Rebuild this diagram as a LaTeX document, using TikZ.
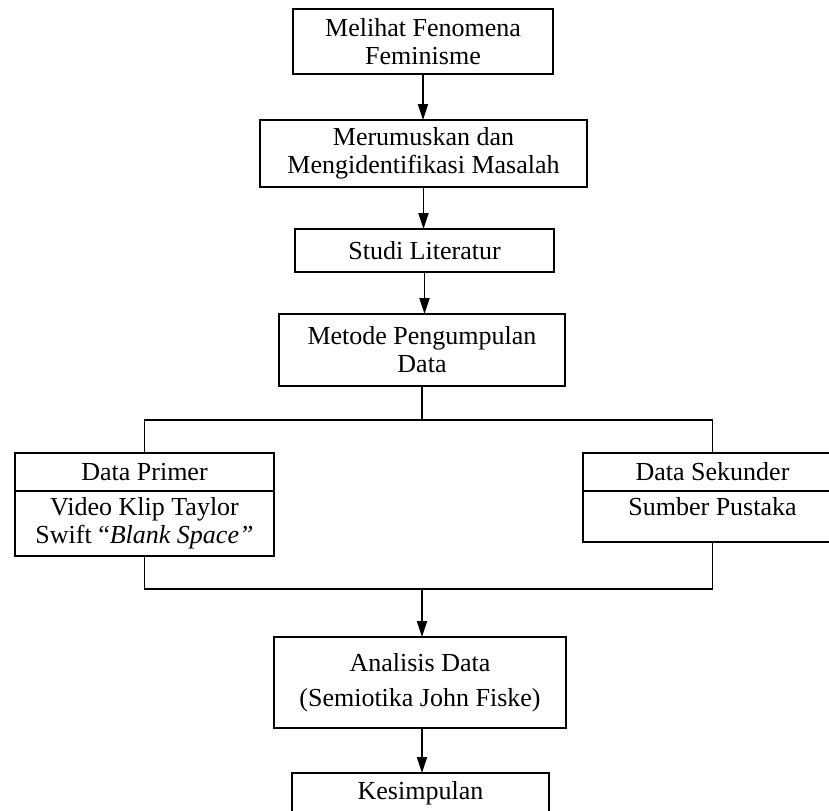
\documentclass[tikz,border=0pt]{standalone}
\usepackage{fontspec}
\setmainfont{Liberation Serif}
\usetikzlibrary{arrows.meta, positioning}

\tikzset{
  box/.style={draw, line width=0.9pt, align=center, inner sep=2pt, outer sep=0pt,
    font=\fontsize{13}{14}\selectfont},
}

\begin{document}
\begin{tikzpicture}[x=0.5pt, y=-0.5pt, >={Triangle[width=5pt,length=8pt]}, line width=0.9pt]
  \useasboundingbox (0,0) rectangle (829,810);
  \clip (0,0) rectangle (829,810);

  % alur utama
  \node[box, minimum width=130pt, minimum height=32.5pt] (fenomena) at (423,41.5) {Melihat Fenomena\\Feminisme};
  \node[box, minimum width=163.5pt, minimum height=33.5pt] (rumusan) at (423.5,153.5) {Merumuskan dan\\Mengidentifikasi Masalah};
  \node[box, minimum width=129.5pt, minimum height=21.5pt] (studi) at (424.5,250.5) {Studi Literatur};
  \node[box, minimum width=143pt, minimum height=36pt] (metode) at (422,350) {Metode Pengumpulan\\Data};

  % sumber data
  \node[box, minimum width=129.5pt, minimum height=19pt] (primer) at (144.5,472) {Data Primer};
  \node[box, minimum width=129.5pt, minimum height=32.5pt, below=0pt of primer] (primerisi) {Video Klip Taylor\\Swift “\textit{Blank Space”}};
  \node[box, minimum width=129.5pt, minimum height=19pt] (sekunder) at (712.5,472) {Data Sekunder};
  \node[box, minimum width=129.5pt, text height=10pt, text depth=11.5pt, below=0pt of sekunder] (sekunderisi) {Sumber Pustaka};

  \node[box, minimum width=146pt, minimum height=45.5pt] (analisis) at (420,682.5) {Analisis Data\\[3.5pt](Semiotika John Fiske)};
  \node[box, minimum width=128.5pt, text height=10pt, text depth=20pt, inner ysep=3pt, anchor=north] (simpulan) at (420.5,773) {Kesimpulan};

  \coordinate (cabang) at (422,420);
  \coordinate (gabung) at (422,589);

  \draw[->] (fenomena.south) -- (fenomena.south |- rumusan.north);
  \draw[->] (rumusan.south) -- (rumusan.south |- studi.north);
  \draw[->] (studi.south) -- (studi.south |- metode.north);
  \draw (metode.south) -- (cabang);
  \draw (primer.north) |- (cabang) -| (sekunder.north);
  \draw (primerisi.south) |- (gabung) -| (sekunderisi.south);
  \draw[->] (gabung) -- (gabung |- analisis.north);
  \draw[->] (gabung |- analisis.south) -- (gabung |- simpulan.north);
\end{tikzpicture}
\end{document}
